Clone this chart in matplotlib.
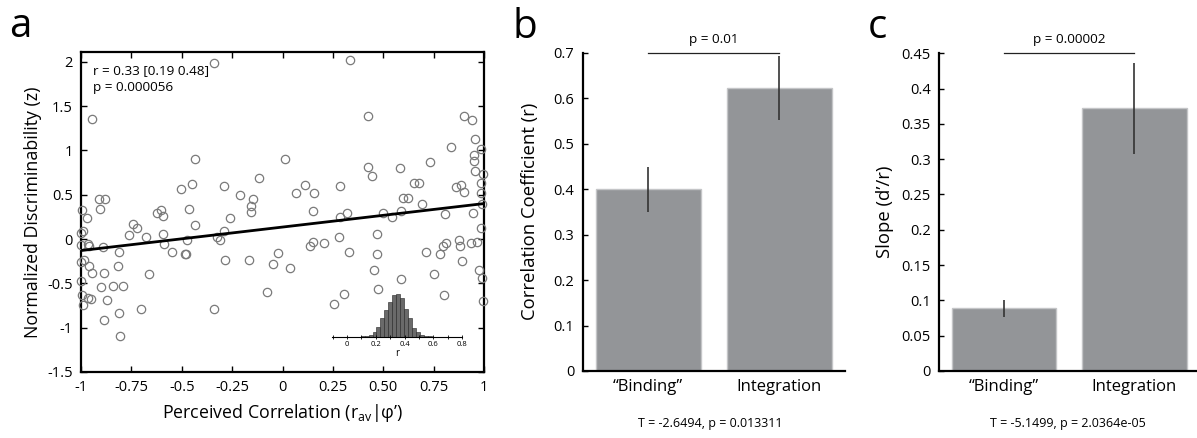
import numpy as np
import matplotlib
matplotlib.use("Agg")
import matplotlib.pyplot as plt
from matplotlib.ticker import MultipleLocator

plt.rcParams['font.family'] = ['Open Sans', 'DejaVu Sans']
plt.rcParams['mathtext.fontset'] = 'custom'
plt.rcParams['mathtext.rm'] = 'Open Sans'

# panel a: perceived correlation vs normalized discriminability
corr_x = [
    -1.0, -0.992, -1.0, -0.964, -0.959, -0.892, -0.995, -0.969, -1.0, -0.985,
    -0.959, -0.945, -1.0, -0.997, -0.992, -0.964, -0.952, -0.899, -0.886, -0.873,
    -0.906, -0.909, -0.881, -0.810, -0.816, -0.843, -0.790, -0.810, -0.886, -0.806,
    -0.661, -0.702, -0.760, -0.740, -0.720, -0.680, -0.624, -0.603, -0.594, -0.591,
    -0.588, -0.548, -0.505, -0.475, -0.483, -0.478, -0.462, -0.449, -0.435, -0.434,
    -0.339, -0.326, -0.310, -0.293, -0.290, -0.286, -0.263, -0.210, -0.166, -0.157,
    -0.157, -0.147, -0.118, -0.078, -0.048, -0.025, -0.338, -0.947,
    0.333, 0.424, 0.899, 0.939, 0.955, 0.836, 0.985, 0.952, 0.952, 0.955,
    0.995, 0.985, 0.985, 0.992, 0.012, 0.425, 0.442, 0.581, 0.733, 0.863,
    0.887, 0.899, 0.651, 0.677, 0.598, 0.621, 0.694, 0.111, 0.068, 0.157,
    0.285, 0.149, 0.283, 0.318, 0.498, 0.541, 0.589, 0.805, 0.945, 0.985,
    0.469, 0.280, 0.151, 0.137, 0.204, 0.038, 0.329, 0.469, 0.714, 0.780,
    0.796, 0.810, 0.876, 0.879, 0.937, 0.965, 0.892, 0.454, 0.753, 0.588,
    0.475, 0.303, 0.257, 0.803, 0.975, 0.988, 0.995,
]
discrim_z = [
    0.071, 0.094, -0.068, -0.056, -0.079, -0.086, 0.327, 0.237, -0.256, -0.237,
    -0.305, -0.380, -0.470, -0.632, -0.744, -0.669, -0.680, -0.545, -0.380, -0.688,
    0.335, 0.447, 0.447, -0.147, -0.305, -0.526, -0.526, -0.838, -0.914, -1.094,
    -0.398, -0.793, 0.045, 0.169, 0.128, 0.019, 0.297, 0.327, 0.259, 0.056,
    -0.056, -0.150, 0.564, -0.011, -0.169, -0.173, 0.338, 0.620, 0.158, 0.902,
    -0.793, 0.019, -0.011, 0.602, 0.090, -0.237, 0.237, 0.500, -0.237, 0.372,
    0.308, 0.455, 0.692, -0.598, -0.278, -0.154, 1.981, 1.350,
    2.019, 1.387, 1.387, 1.342, 1.124, 1.041, 1.011, 0.947, 0.883, 0.771,
    0.729, 0.635, 0.515, 0.391, 0.902, 0.808, 0.711, 0.801, 0.865, 0.590,
    0.613, 0.530, 0.628, 0.635, 0.459, 0.466, 0.395, 0.605, 0.523, 0.515,
    0.602, 0.312, 0.252, 0.289, 0.297, 0.252, 0.312, 0.278, 0.293, 0.128,
    0.053, 0.023, -0.034, -0.075, -0.049, -0.323, -0.147, -0.165, -0.150, -0.169,
    -0.075, -0.041, -0.011, -0.075, -0.041, -0.034, -0.252, -0.353, -0.398, -0.447,
    -0.560, -0.620, -0.733, -0.632, -0.350, -0.444, -0.703,
]
fit_x = [-1.0, 1.0]
fit_y = [-0.13, 0.40]

# bootstrap distribution of r (inset)
boot_edges = np.arange(18 + 1) * 0.0275 + 0.095
boot_counts = [1, 3, 6, 15, 30, 57, 80, 105, 125, 127, 115, 82, 55, 27, 14, 5, 2, 1]

# panels b and c
groups = ['\u201cBinding\u201d', 'Integration']
corr_mean = [0.40, 0.622]
corr_lo = [0.350, 0.551]
corr_hi = [0.448, 0.693]
slope_mean = [0.089, 0.372]
slope_lo = [0.077, 0.308]
slope_hi = [0.1006, 0.436]

bar_gray = '#939598'
bar_edge = '#c4c5c7'

fig = plt.figure(figsize=(11.97, 4.38), dpi=100)

# ---- a ----
ax = fig.add_axes([0.0677, 0.1507, 0.3367, 0.7306])
ax.plot(corr_x, discrim_z, 'o', mfc='none', mec='#7a7a7a', ms=6, mew=0.9,
        clip_on=False, zorder=3)
ax.plot(fit_x, fit_y, color='black', lw=2.0, zorder=4)
ax.set_xlim(-1, 1)
ax.set_ylim(-1.5, 2.11)
ax.set_xticks([-1, -0.75, -0.5, -0.25, 0, 0.25, 0.5, 0.75, 1])
ax.set_xticklabels(['-1', '-0.75', '-0.5', '-0.25', '0', '0.25', '0.50', '0.75', '1'])
ax.set_yticks([-1.5, -1, -0.5, 0, 0.5, 1, 1.5, 2])
ax.set_yticklabels(['-1.5', '-1', '-0.5', '0', '0.5', '1', '1.5', '2'])
ax.tick_params(direction='in', top=True, right=True, length=4, width=1,
               labelsize=10.5, pad=6)
for s in ax.spines.values():
    s.set_linewidth(1.6)
ax.text(-0.119, 0.5, 'Normalized Discriminability (z)', transform=ax.transAxes,
        rotation=90, ha='center', va='center', fontsize=12.8)
ax.text(0.5, -0.128, 'Perceived Correlation (r$_{\\mathrm{av}}$|\u03c6\u2019)',
        transform=ax.transAxes, ha='center', va='center', fontsize=12.8)
ax.text(0.029, 0.9406, 'r = 0.33 [0.19 0.48]', transform=ax.transAxes,
        ha='left', va='center', fontsize=9.7)
ax.text(0.029, 0.8875, 'p = 0.000056', transform=ax.transAxes,
        ha='left', va='center', fontsize=9.7)

ins = fig.add_axes([0.2774, 0.2313, 0.1086, 0.1027])
ins.patch.set_alpha(0)
ins.bar(boot_edges[:-1], boot_counts, width=np.diff(boot_edges), align='edge',
        color='#6a6a6a', edgecolor='#222222', linewidth=0.4)
ins.set_xlim(-0.104, 0.8)
ins.set_ylim(0, 135)
for side in ['top', 'right', 'left']:
    ins.spines[side].set_visible(False)
ins.spines['bottom'].set_linewidth(0.8)
ins.set_yticks([])
ins.set_xticks([0, 0.2, 0.4, 0.6, 0.8])
ins.set_xticklabels(['0', '0.2', '0.4', '0.6', '0.8'])
ins.xaxis.set_minor_locator(MultipleLocator(0.1))
ins.tick_params(axis='x', which='both', direction='inout', length=2.5, width=0.6,
                labelsize=5.5, pad=1.5)
ins.set_xlabel('r', fontsize=7, labelpad=0)


def bar_panel(rect, means, lo, hi, ymax, yticks, ylabel, label_x, sig_y, sig_text,
              stats_text, stats_x):
    axb = fig.add_axes(rect)
    pos = np.arange(1, len(groups) + 1)
    axb.bar(pos, means, width=0.8, color=bar_gray, edgecolor=bar_edge, linewidth=1,
            zorder=2)
    axb.vlines(pos, lo, hi, color='#333333', lw=1.2, zorder=3)
    axb.set_xlim(0.5, 2.5)
    axb.set_ylim(0, ymax)
    axb.set_yticks(yticks)
    axb.set_yticklabels([('%g' % t) for t in yticks])
    axb.set_xticks(pos)
    axb.set_xticklabels(groups)
    axb.spines['top'].set_visible(False)
    axb.spines['right'].set_visible(False)
    axb.spines['left'].set_linewidth(1.6)
    axb.spines['bottom'].set_linewidth(1.6)
    axb.tick_params(axis='y', direction='in', length=3.5, width=1, labelsize=10.5, pad=6)
    axb.tick_params(axis='x', length=0, labelsize=12, pad=6)
    axb.text(label_x, 0.5, ylabel, transform=axb.transAxes, rotation=90,
             ha='center', va='center', fontsize=13.3)
    axb.plot([1, 2], [sig_y[0], sig_y[0]], color='#222222', lw=0.9, clip_on=False)
    axb.text(1.5, sig_y[1], sig_text, ha='center', va='center', fontsize=9.7)
    fig.text(stats_x, 0.034, stats_text, ha='center', va='center', fontsize=9)
    return axb


# ---- b ----
bar_panel([0.4868, 0.153, 0.2191, 0.7267], corr_mean, corr_lo, corr_hi, 0.7,
          [0, 0.1, 0.2, 0.3, 0.4, 0.5, 0.6, 0.7], 'Correlation Coefficient (r)',
          -0.201, (0.70, 0.728), 'p = 0.01', 'T = -2.6494, p = 0.013311', 0.593)

# ---- c ----
bar_panel([0.7845, 0.153, 0.2177, 0.7253], slope_mean, slope_lo, slope_hi, 0.45,
          [0, 0.05, 0.1, 0.15, 0.2, 0.25, 0.3, 0.35, 0.4, 0.45], 'Slope (d\u2019/r)',
          -0.207, (0.451, 0.469), 'p = 0.00002', 'T = -5.1499, p = 2.0364e-05', 0.892)

fig.text(0.0075, 0.9155, 'a', fontsize=29, va='baseline', ha='left')
fig.text(0.4283, 0.9126, 'b', fontsize=29, va='baseline', ha='left')
fig.text(0.7246, 0.9126, 'c', fontsize=29, va='baseline', ha='left')

fig.savefig('out.png', dpi=100)
